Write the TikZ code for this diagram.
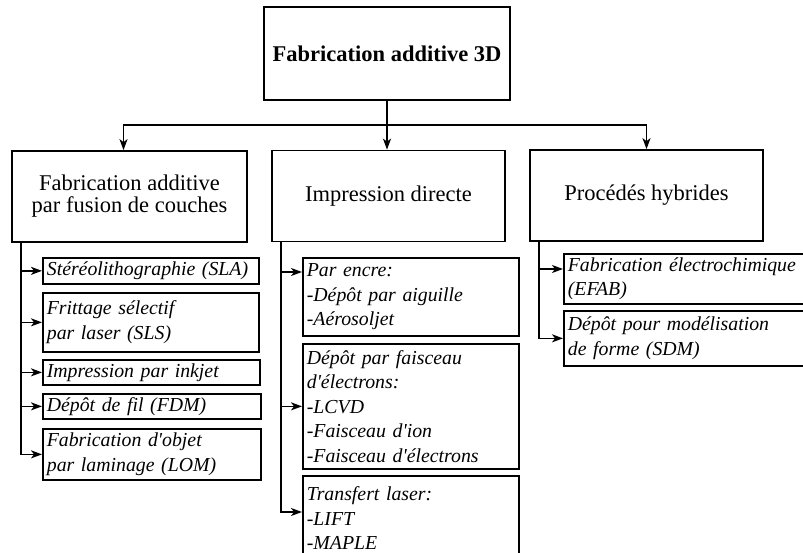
\documentclass[tikz,border=0pt]{standalone}
\usepackage{fontspec}
\setmainfont{Liberation Serif}
\usetikzlibrary{arrows.meta}

\begin{document}
\begin{tikzpicture}[x=1pt, y=1pt,
	headbox/.style={draw, line width=1.7pt, align=center, font=\fontsize{22.5}{22}\selectfont, minimum width=233pt, minimum height=91pt},
	itembox/.style={draw, line width=1.7pt, anchor=north west, align=left, inner xsep=4pt, inner ysep=3pt, font=\fontsize{19.8}{24.5}\selectfont\itshape},
	conn/.style={line width=1.6pt, -{Stealth[length=11pt, width=8pt, inset=3pt]}}]
\clip (0,0) rectangle (803,-553);
	\node [headbox, minimum width=246pt, minimum height=93pt, font=\fontsize{22.5}{22}\selectfont\bfseries] (top) at (387,-53.5){Fabrication additive 3D};
	\node [headbox, minimum width=235pt] (fa) at (129.5,-196.5){Fabrication additive\\par fusion de couches};
	\node [headbox] (id) at (388.5,-196){Impression directe};
	\node [headbox] (ph) at (646.5,-195.5){Procédés hybrides};
	% fusion de couches
	\node [itembox, text width=208pt, minimum height=26pt] (sla) at (42,-257){Stéréolithographie (SLA)};
	\node [itembox, text width=208pt, minimum height=59pt] (sls) at (42,-292){Frittage sélectif\\par laser (SLS)};
	\node [itembox, text width=209pt, minimum height=25pt] (ink) at (42,-359){Impression par inkjet};
	\node [itembox, text width=210pt, minimum height=25pt] (fdm) at (42,-393){Dépôt de fil (FDM)};
	\node [itembox, text width=210pt, minimum height=51pt] (lom) at (42,-428){Fabrication d\textquotesingle objet\\par laminage (LOM)};
	% impression directe
	\node [itembox, text width=208pt, minimum height=78pt] (enc) at (302,-257){Par encre:\\-Dépôt par aiguille\\-Aérosoljet};
	\node [itembox, text width=208pt, minimum height=125pt] (feb) at (302,-343){Dépôt par faisceau\\d\textquotesingle électrons:\\-LCVD\\-Faisceau d\textquotesingle ion\\-Faisceau d\textquotesingle électrons};
	\node [itembox, text width=208pt, minimum height=85pt] (lst) at (302,-475){Transfert laser:\\-LIFT\\-MAPLE};
	% hybrides
	\node [itembox, text width=242pt, minimum height=50pt] (efab) at (563,-253){Fabrication électrochimique\\(EFAB)};
	\node [itembox, text width=242pt, minimum height=55pt] (sdm) at (563,-310){Dépôt pour modélisation\\de forme (SDM)};
\draw [conn] (top.south) -- ++(0,-24) -| ([xshift=-6pt]fa.north);
\draw [conn] (top.south) -- ++(0,-24) -| (ph.north);
\draw [conn] (top.south) -- (top.south |- id.north);
\foreach \up/\kid in {fa/sla, fa/sls, fa/ink, fa/fdm, fa/lom, id/feb, ph/sdm}
\draw [conn] ([xshift=10pt]\up.south west) |- (\kid.west);
\draw [conn] ([xshift=10pt]id.south west) |- ([yshift=-15pt]enc.north west);
\draw [conn] ([xshift=10pt]id.south west) |- ([yshift=-37pt]lst.north west);
\draw [conn] ([xshift=10pt]ph.south west) |- ([yshift=-16pt]efab.north west);
\end{tikzpicture}
\end{document}
